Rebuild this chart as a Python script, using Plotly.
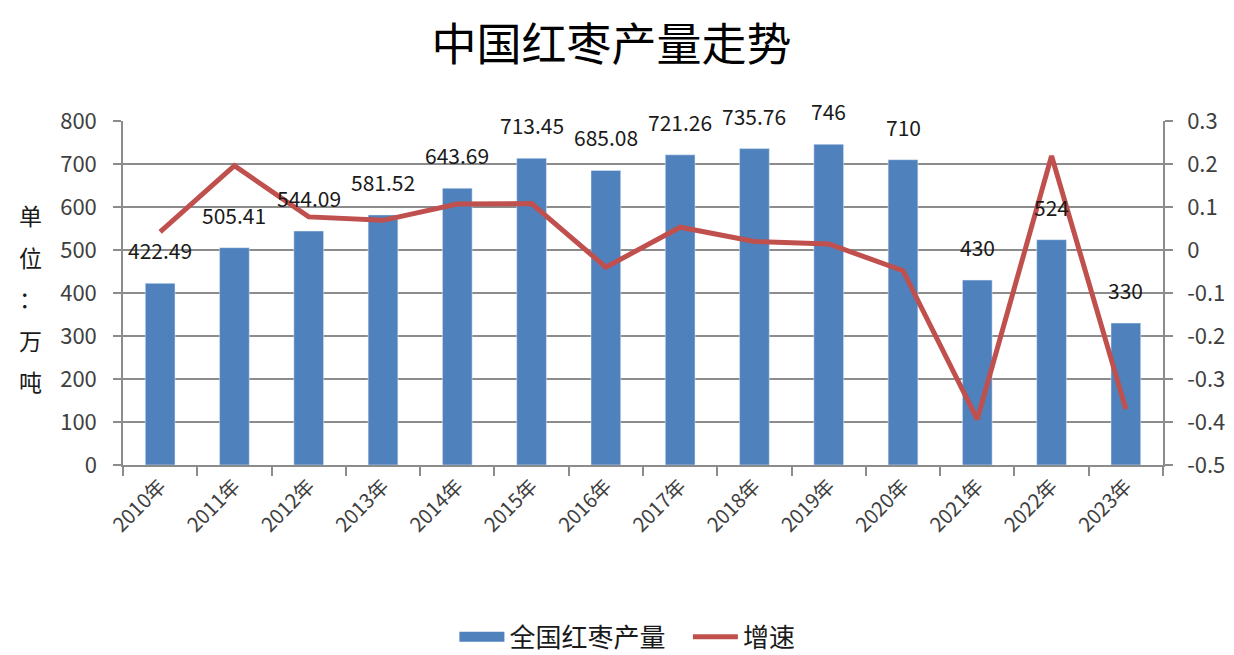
import plotly.graph_objects as go

years = ["2010年", "2011年", "2012年", "2013年", "2014年", "2015年", "2016年",
         "2017年", "2018年", "2019年", "2020年", "2021年", "2022年", "2023年"]
output = [422.49, 505.41, 544.09, 581.52, 643.69, 713.45, 685.08,
          721.26, 735.76, 746, 710, 430, 524, 330]
output_labels = ["422.49", "505.41", "544.09", "581.52", "643.69", "713.45", "685.08",
                 "721.26", "735.76", "746", "710", "430", "524", "330"]
growth = [0.042, 0.196, 0.077, 0.069, 0.107, 0.108, -0.040,
          0.053, 0.020, 0.014, -0.048, -0.394, 0.219, -0.370]
right_ticks = [0.3, 0.2, 0.1, 0, -0.1, -0.2, -0.3, -0.4, -0.5]
right_tick_text = ["0.3", "0.2", "0.1", "0", "-0.1", "-0.2", "-0.3", "-0.4", "-0.5"]
unit_chars = ["单", "位", "：", "万", "吨"]

FONT = "Noto Sans CJK SC, Noto Sans, sans-serif"
BLUE = "#4F81BD"
RED = "#C0504D"
AXIS = "#8C8C8C"

fig = go.Figure()
fig.add_trace(go.Bar(x=years, y=output, name="全国红枣产量", marker_color=BLUE,
                     width=0.4, yaxis="y", showlegend=False))
# legend-only stand-in so the legend key is a wide blue block like the original
fig.add_trace(go.Scatter(x=[None], y=[None], name="全国红枣产量\u00a0\u00a0\u00a0", mode="lines",
                         line=dict(color=BLUE, width=20), yaxis="y"))
fig.add_trace(go.Scatter(x=years, y=growth, name="增速", mode="lines",
                         line=dict(color=RED, width=5), yaxis="y2"))

# value labels sit a little above each bar, like the Excel original
for x, v, t in zip(years, output, output_labels):
    fig.add_annotation(x=x, y=v, text=t, showarrow=False, yshift=33,
                       font=dict(size=21, color="#1a1a1a", family=FONT))

# vertical axis caption, one character per row
for i, ch in enumerate(unit_chars):
    fig.add_annotation(text=ch, xref="paper", yref="paper", x=-0.089, xanchor="center",
                       y=0.727 - i * 0.121, yanchor="middle", showarrow=False,
                       font=dict(size=23, color="#1a1a1a", family=FONT))

# the page body has an 8px margin, so the margins below are shifted by that
fig.update_layout(
    width=1234, height=655,
    margin=dict(l=115, r=79, t=113, b=198),
    paper_bgcolor="white", plot_bgcolor="white",
    font=dict(family=FONT, color="#404040"),
    title=dict(text="中国红枣产量走势", x=0.489, xanchor="center", y=0.943,
               yanchor="middle", font=dict(size=45, color="#000000", family=FONT)),
    xaxis=dict(type="category", tickangle=-45, showline=True, linecolor=AXIS,
               linewidth=1.5, ticks="outside", tickson="boundaries", ticklen=9,
               tickcolor=AXIS, tickwidth=1.5, tickfont=dict(size=20, color="#404040"),
               showgrid=False),
    yaxis=dict(range=[0, 800], dtick=100, showline=True, linecolor=AXIS, linewidth=1.5,
               ticks="outside", ticklen=8, tickcolor=AXIS, tickwidth=1.5, gridcolor=AXIS,
               gridwidth=1.6, tickfont=dict(size=22, color="#404040"), zeroline=False,
               ticklabelstandoff=12),
    yaxis2=dict(range=[-0.5, 0.3], overlaying="y", side="right", tickvals=right_ticks,
                ticktext=right_tick_text, showline=True, linecolor=AXIS, linewidth=1.5,
                ticks="outside", ticklen=8, tickcolor=AXIS, tickwidth=1.5, showgrid=False,
                zeroline=False, tickfont=dict(size=22, color="#404040"),
                ticklabelstandoff=10),
    legend=dict(orientation="h", x=0.485, xanchor="center", yref="container", y=0.04,
                yanchor="middle", font=dict(size=26, color="#1a1a1a"), itemwidth=45),
    bargap=0.6,
)

fig.write_html("out.html")
